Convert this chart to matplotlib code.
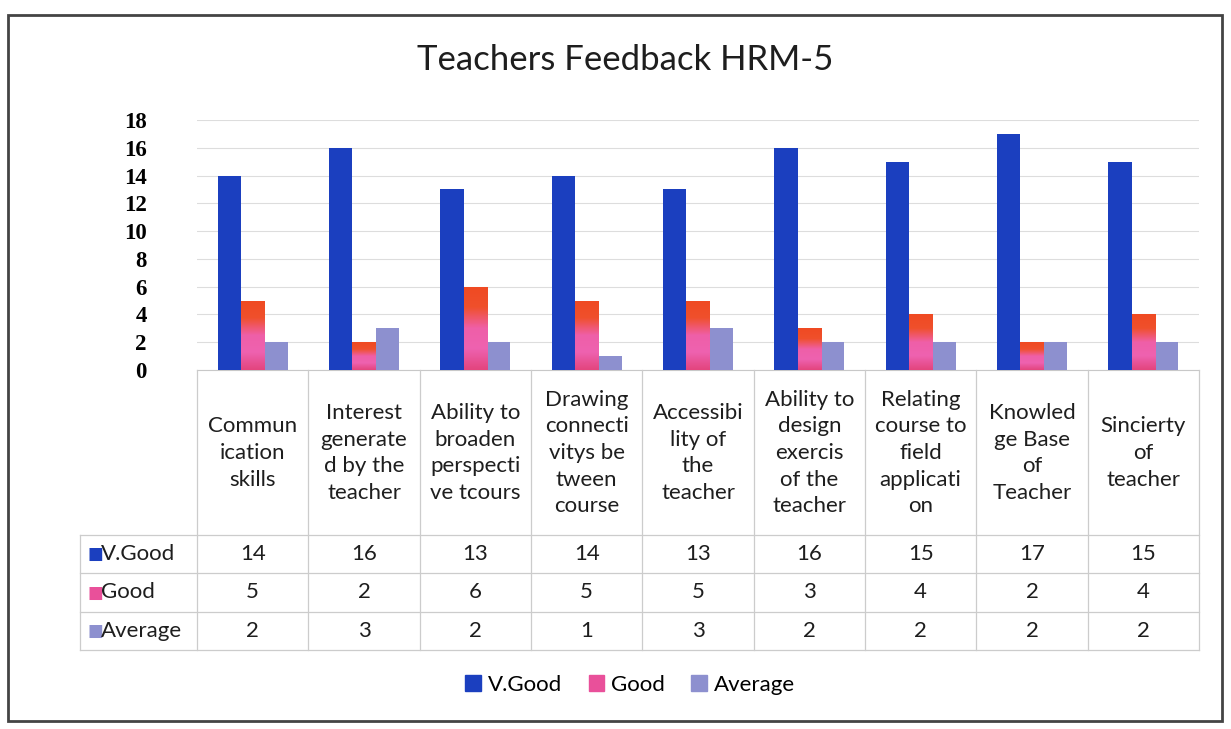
import numpy as np
import matplotlib
matplotlib.use("Agg")
import matplotlib.pyplot as plt
from matplotlib.colors import LinearSegmentedColormap
from matplotlib.patches import Rectangle

# data
categories = ["Commun\nication\nskills", "Interest\ngenerate\nd by the\nteacher",
              "Ability to\nbroaden\nperspecti\nve tcours", "Drawing\nconnecti\nvitys be\ntween\ncourse",
              "Accessibi\nlity of\nthe\nteacher", "Ability to\ndesign\nexercis\nof the\nteacher",
              "Relating\ncourse to\nfield\napplicati\non", "Knowled\nge Base\nof\nTeacher",
              "Sincierty\nof\nteacher"]
series_names = ["V.Good", "Good", "Average"]
vgood = [14, 16, 13, 14, 13, 16, 15, 17, 15]
good = [5, 2, 6, 5, 5, 3, 4, 2, 4]
average = [2, 3, 2, 1, 3, 2, 2, 2, 2]
yticks = [0, 2, 4, 6, 8, 10, 12, 14, 16, 18]

c_vgood = "#1b3fbf"
c_good = "#e9509a"
c_avg = "#8d90cf"

plt.rcParams['font.family'] = ['Lato', 'DejaVu Sans']

W, H = 1231, 729
fig = plt.figure(figsize=(W / 100, H / 100), dpi=100)
fig.patch.set_facecolor("white")

def px(l, t, r, b):
    return [l / W, 1 - b / H, (r - l) / W, (b - t) / H]

# outer frame
fig.patches.append(Rectangle((8 / W, 8 / H), (1222 - 8) / W, (714 - 8) / H, transform=fig.transFigure,
                             fill=False, edgecolor="#444444", linewidth=2))

ax = fig.add_axes(px(197, 120, 1199, 370))
x = np.arange(len(categories))
bw = 0.21
b1 = ax.bar(x - bw, vgood, bw, color=c_vgood, zorder=3)
b2 = ax.bar(x, good, bw, color=c_good, zorder=3)
b3 = ax.bar(x + bw, average, bw, color=c_avg, zorder=3)

# gradient on Good bars (red top, pink below)
cmap = LinearSegmentedColormap.from_list("g", ["#e3457e", "#ee62b0", "#ef5fa8", "#f0502c", "#ef4a22"])
grad = np.linspace(0, 1, 64).reshape(-1, 1)
for bar in b2:
    bx, by, bwid, bh = bar.get_x(), bar.get_y(), bar.get_width(), bar.get_height()
    im = ax.imshow(grad, extent=(bx, bx + bwid, by, by + bh), origin="lower", cmap=cmap,
                   aspect="auto", zorder=4)
    im.set_clip_path(bar)

ax.set_xlim(-0.5, len(categories) - 0.5)
ax.set_ylim(0, 18)
ax.set_yticks(yticks)
ax.set_yticklabels([str(v) for v in yticks], family="Liberation Serif", weight="bold", fontsize=16.5)
ax.tick_params(axis="y", length=0, pad=36)
ax.set_xticks([])
ax.grid(axis="y", color="#dddddd", linewidth=0.8, zorder=0)
for s in ["top", "right", "left"]:
    ax.spines[s].set_visible(False)
ax.spines["bottom"].set_color("#c8c8c8")

# data table below the chart
tax = fig.add_axes(px(197, 370, 1199, 650))
tax.set_xlim(-0.5, len(categories) - 0.5)
tax.set_ylim(0, 280)
tax.axis("off")
line_c = "#cccccc"
row_tops = [115, 77, 38, 0]  # row boundaries from bottom of header
left_col = -1.55
for xi in np.arange(-0.5, len(categories), 1.0):
    tax.plot([xi, xi], [0, 280], color=line_c, lw=0.9, clip_on=False)
tax.plot([left_col, left_col], [0, 115], color=line_c, lw=0.9, clip_on=False)
for yv in row_tops:
    tax.plot([left_col, len(categories) - 0.5], [yv, yv], color=line_c, lw=0.9, clip_on=False)

for i, lab in enumerate(categories):
    tax.text(i, 197, lab, ha="center", va="center", fontsize=16, linespacing=1.42, color="#1e1e1e")

rows = [vgood, good, average]
colors = [c_vgood, c_good, c_avg]
for r, (name, vals, col) in enumerate(zip(series_names, rows, colors)):
    yc = (row_tops[r] + row_tops[r + 1]) / 2
    tax.text(left_col + 0.07, yc, "■", ha="left", va="center", fontsize=12, color=col,
             family="DejaVu Sans", clip_on=False)
    tax.text(left_col + 0.19, yc, name, ha="left", va="center", fontsize=16, color="#1e1e1e", clip_on=False)
    for i, v in enumerate(vals):
        tax.text(i, yc, str(v), ha="center", va="center", fontsize=16, color="#1e1e1e")

fig.text(625 / W, 1 - 60 / H, "Teachers Feedback HRM-5", ha="center", va="center", fontsize=25, color="#1e1e1e")

handles = [Rectangle((0, 0), 1, 1, color=c) for c in colors]
fig.legend(handles, series_names, loc="center", bbox_to_anchor=(630 / W, 1 - 685 / H), ncol=3,
           frameon=False, fontsize=16, handlelength=0.7, handleheight=0.7, handletextpad=0.3,
           columnspacing=1.2)

fig.savefig("out.png", dpi=100, facecolor="white")
